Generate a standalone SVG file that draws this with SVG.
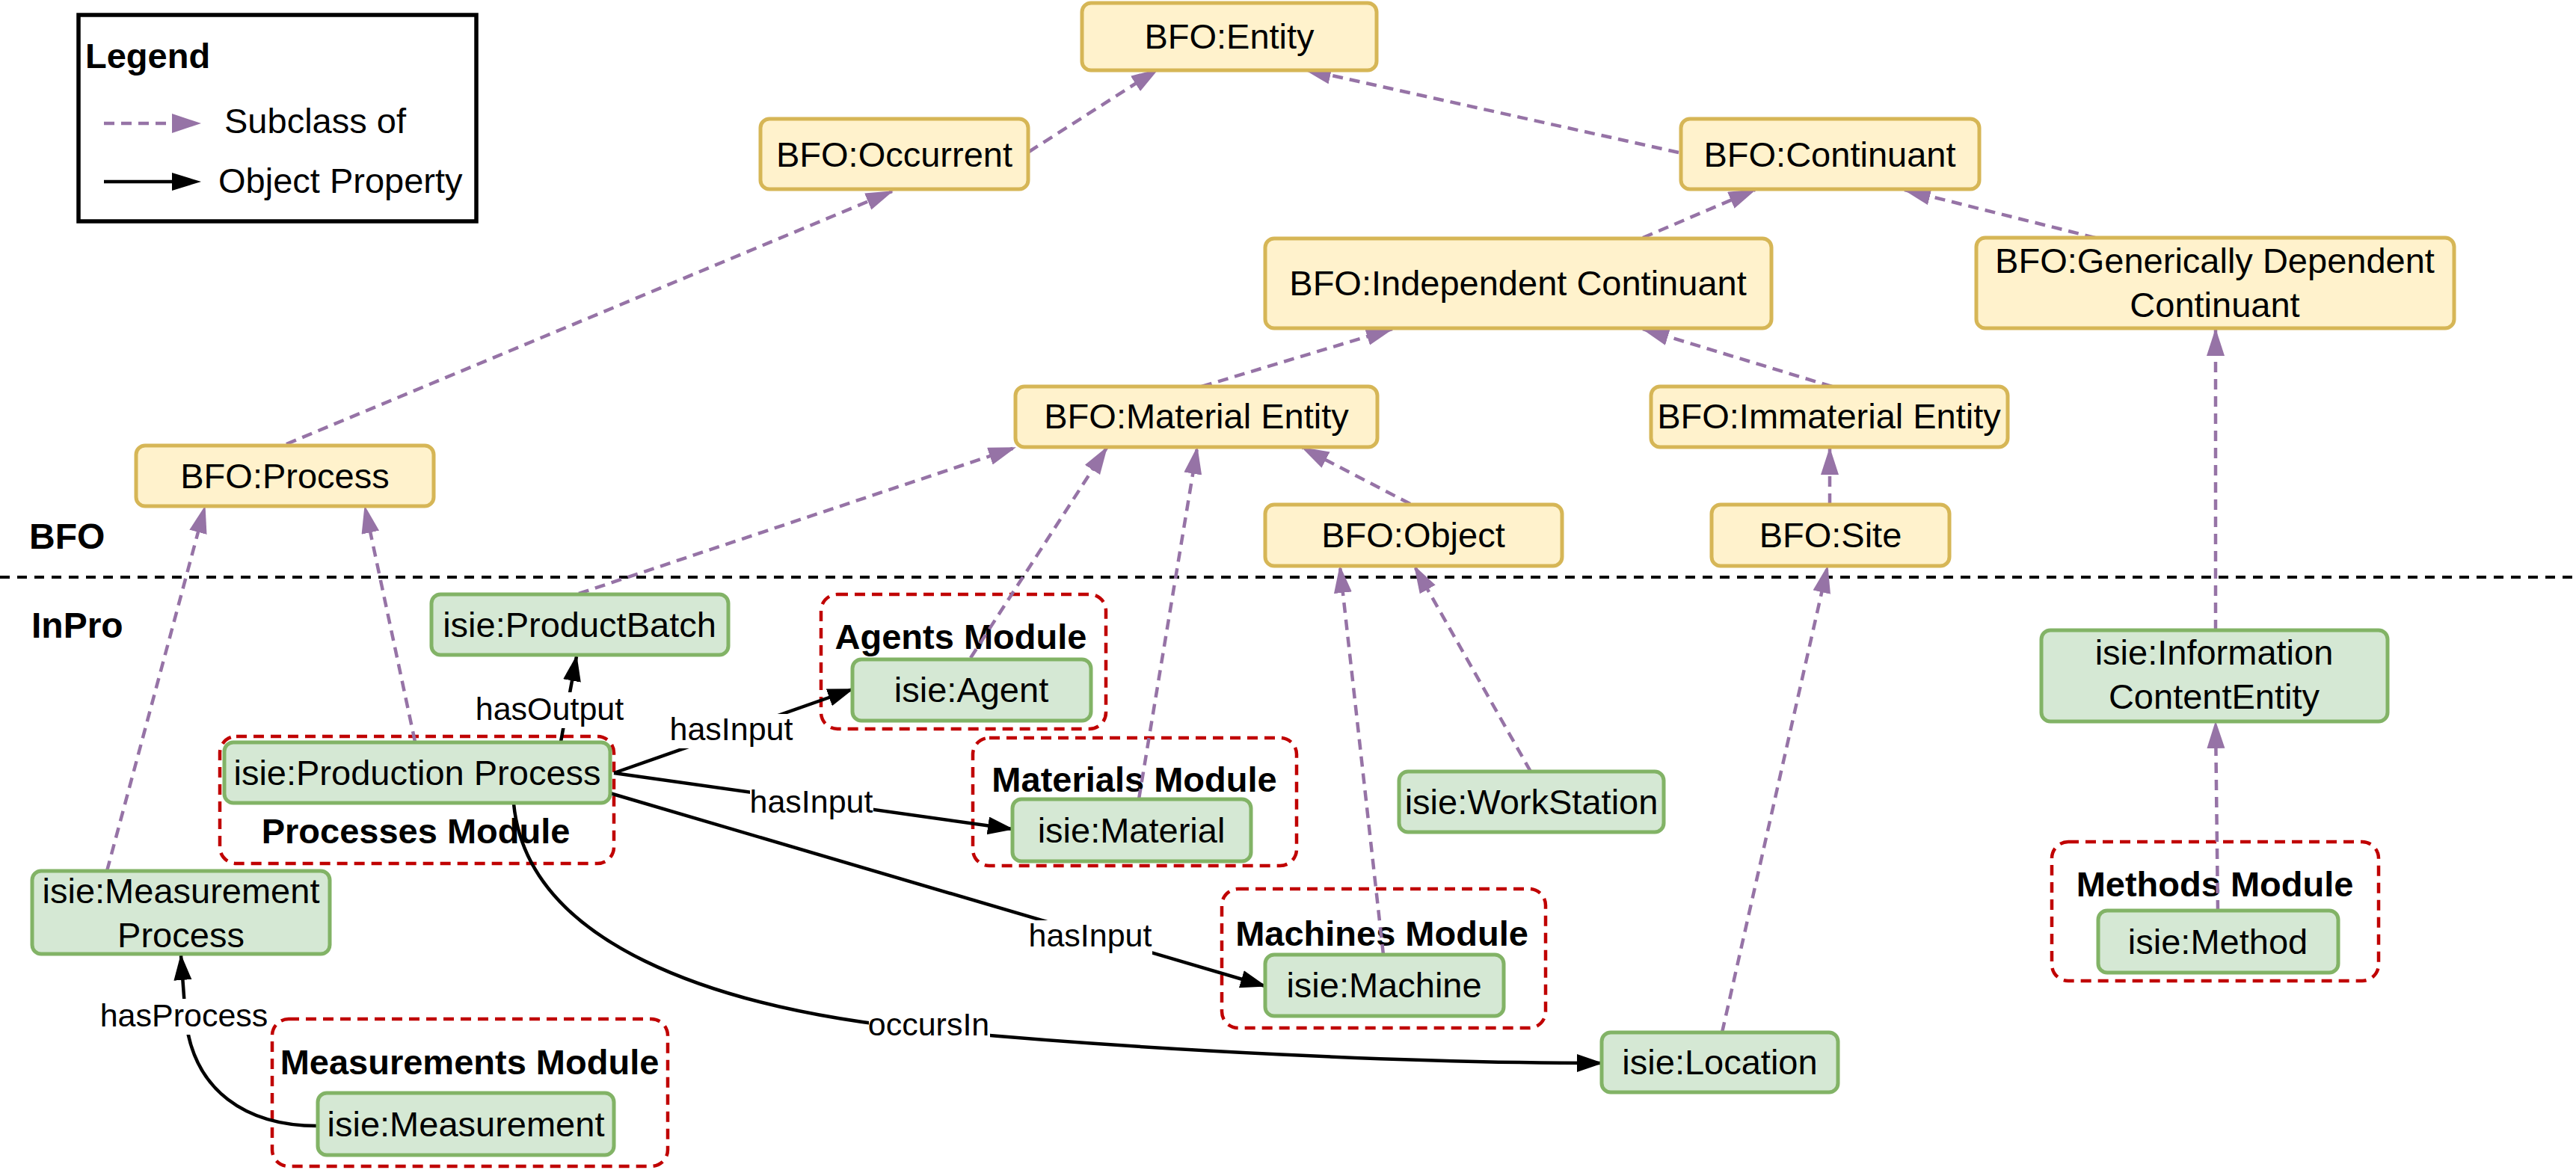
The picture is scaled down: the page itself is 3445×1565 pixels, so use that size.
<svg xmlns="http://www.w3.org/2000/svg" width="3445" height="1565" viewBox="0 0 3445 1565">
<defs>
<style>
text { font-family: "Liberation Sans", Arial, Helvetica, sans-serif; fill:#000; }
.n { font-size:47px; text-anchor:middle; }
.t { font-size:47px; font-weight:bold; text-anchor:middle; }
.sec { font-size:48px; font-weight:bold; }
.lbl { font-size:43px; text-anchor:middle; }
.bfo rect { fill:#fff2cc; stroke:#d6b656; stroke-width:5; }
.inp rect { fill:#d5e8d4; stroke:#82b366; stroke-width:5; }
.mod rect { fill:none; stroke:#c00000; stroke-width:4.5; stroke-dasharray:14 9; }
.sub { fill:none; stroke:#9673a6; stroke-width:4.5; stroke-dasharray:14 9; marker-end:url(#pa); }
.obj { fill:none; stroke:#000; stroke-width:4.5; marker-end:url(#ba); }
.bg { fill:#fff; }
</style>
<marker id="pa" markerUnits="userSpaceOnUse" viewBox="0 0 40 26" markerWidth="40" markerHeight="26" refX="35" refY="12" orient="auto"><path d="M0,0 L37,12 L0,24 z" fill="#9673a6"/></marker>
<marker id="ba" markerUnits="userSpaceOnUse" viewBox="0 0 40 26" markerWidth="40" markerHeight="26" refX="33" refY="12" orient="auto"><path d="M0,0 L35,12 L0,24 z" fill="#000"/></marker>
</defs>
<rect width="3445" height="1565" fill="#fff"/>

<g id="legend">
<rect x="105" y="20" width="532" height="276" fill="#fff" stroke="#000" stroke-width="5.5"/>
<text x="114" y="91" style="font-size:47px;font-weight:bold">Legend</text>
<line x1="139" y1="165" x2="232" y2="165" stroke="#9673a6" stroke-width="4.5" stroke-dasharray="14 9"/>
<path d="M230,152 L269,165 L230,178 z" fill="#9673a6"/>
<text x="300" y="178" style="font-size:47px">Subclass of</text>
<line x1="139" y1="243" x2="232" y2="243" stroke="#000" stroke-width="4.5"/>
<path d="M230,231 L269,243 L230,255 z" fill="#000"/>
<text x="292" y="258" style="font-size:47px">Object Property</text>
</g>

<g id="layers">
<line x1="0" y1="772" x2="3445" y2="772" stroke="#000" stroke-width="4" stroke-dasharray="13 10"/>
<text class="sec" x="39" y="734">BFO</text>
<text class="sec" x="42" y="853">InPro</text>
</g>

<g id="modules" class="mod">
<g id="processes-module"><rect x="294" y="985" width="527" height="170" rx="22"/><text class="t" x="556" y="1128">Processes Module</text></g>
<g id="agents-module"><rect x="1098" y="795" width="381" height="180" rx="22"/><text class="t" x="1285" y="868">Agents Module</text></g>
<g id="materials-module"><rect x="1301" y="987" width="433" height="171" rx="22"/><text class="t" x="1517" y="1059">Materials Module</text></g>
<g id="machines-module"><rect x="1634" y="1189" width="433" height="186" rx="22"/><text class="t" x="1848" y="1265">Machines Module</text></g>
<g id="measurements-module"><rect x="364" y="1363" width="529" height="197" rx="22"/><text class="t" x="628" y="1437">Measurements Module</text></g>
<g id="methods-module"><rect x="2744" y="1126" width="437" height="186" rx="22"/><text class="t" x="2962" y="1199">Methods Module</text></g>
</g>

<g id="connectors">
<path class="sub" d="M1376,203 L1548,93"/>
<path class="sub" d="M2245,204 L1745,93"/>
<path class="sub" d="M383,594 L1193,256"/>
<path class="sub" d="M2197,318 L2347,254"/>
<path class="sub" d="M2802,318 L2547,254"/>
<path class="sub" d="M1607,517 L1862,440"/>
<path class="sub" d="M2450,517 L2197,440"/>
<path class="sub" d="M1886,674 L1742,599"/>
<path class="sub" d="M2447,674 L2447,600"/>
<path class="sub" d="M774,794 L1357,599"/>
<path class="sub" d="M1298,880 L1480,599"/>
<path class="sub" d="M1523,1069 L1601,599"/>
<path class="sub" d="M143,1165 L274,678"/>
<path class="sub" d="M555,992 L488,678"/>
<path class="sub" d="M1850,1277 L1792,758"/>
<path class="sub" d="M2047,1032 L1892,758"/>
<path class="sub" d="M2303,1381 L2444,758"/>
<path class="sub" d="M2963,843 L2963,441"/>
<path class="sub" d="M2966,1218 L2963,966"/>

<path class="obj" d="M750,992 L771,878"/>
<path class="obj" d="M821,1034 L1140,922"/>
<path class="obj" d="M821,1034 L1354,1109"/>
<path class="obj" d="M816,1061 L1692,1319"/>
<path class="obj" d="M687,1075 C705,1260 950,1350 1245,1378 S1900,1422 2142,1422"/>
<path class="obj" d="M425,1506 C330,1506 258,1460 248,1360 L242,1278"/>

<rect class="bg" x="633" y="926" width="204" height="48"/>
<text class="lbl" x="735" y="963">hasOutput</text>
<rect class="bg" x="896" y="955" width="164" height="46"/>
<text class="lbl" x="978" y="990">hasInput</text>
<rect class="bg" x="1003" y="1052" width="165" height="46"/>
<text class="lbl" x="1085" y="1087">hasInput</text>
<rect class="bg" x="1376" y="1231" width="165" height="46"/>
<text class="lbl" x="1458" y="1266">hasInput</text>
<rect class="bg" x="1162" y="1350" width="162" height="46"/>
<text class="lbl" x="1242" y="1385">occursIn</text>
<rect class="bg" x="133" y="1336" width="228" height="48"/>
<text class="lbl" x="246" y="1373">hasProcess</text>
</g>

<g id="bfo-nodes" class="bfo">
<g id="entity"><rect x="1447" y="4" width="394" height="90" rx="12"/><text class="n" x="1644" y="65">BFO:Entity</text></g>
<g id="occurrent"><rect x="1017" y="159" width="358" height="94" rx="12"/><text class="n" x="1196" y="223">BFO:Occurrent</text></g>
<g id="continuant"><rect x="2248" y="159" width="399" height="94" rx="12"/><text class="n" x="2447" y="223">BFO:Continuant</text></g>
<g id="independent-continuant"><rect x="1692" y="319" width="677" height="120" rx="12"/><text class="n" x="2030" y="395">BFO:Independent Continuant</text></g>
<g id="gdc"><rect x="2643" y="318" width="639" height="121" rx="12"/><text class="n" x="2962" y="365">BFO:Generically Dependent</text><text class="n" x="2962" y="424">Continuant</text></g>
<g id="process"><rect x="182" y="596" width="398" height="81" rx="12"/><text class="n" x="381" y="653">BFO:Process</text></g>
<g id="material-entity"><rect x="1358" y="517" width="484" height="81" rx="12"/><text class="n" x="1600" y="573">BFO:Material Entity</text></g>
<g id="immaterial-entity"><rect x="2208" y="517" width="477" height="81" rx="12"/><text class="n" x="2446" y="573">BFO:Immaterial Entity</text></g>
<g id="object"><rect x="1692" y="675" width="397" height="82" rx="12"/><text class="n" x="1890" y="732">BFO:Object</text></g>
<g id="site"><rect x="2289" y="675" width="318" height="82" rx="12"/><text class="n" x="2448" y="732">BFO:Site</text></g>
</g>

<g id="inpro-nodes" class="inp">
<g id="product-batch"><rect x="577" y="795" width="397" height="81" rx="12"/><text class="n" x="775" y="852">isie:ProductBatch</text></g>
<g id="production-process"><rect x="300" y="993" width="516" height="81" rx="12"/><text class="n" x="558" y="1050">isie:Production Process</text></g>
<g id="agent"><rect x="1140" y="882" width="319" height="82" rx="12"/><text class="n" x="1299" y="939">isie:Agent</text></g>
<g id="material"><rect x="1354" y="1069" width="319" height="83" rx="12"/><text class="n" x="1513" y="1127">isie:Material</text></g>
<g id="machine"><rect x="1692" y="1277" width="319" height="82" rx="12"/><text class="n" x="1851" y="1334">isie:Machine</text></g>
<g id="workstation"><rect x="1871" y="1032" width="354" height="81" rx="12"/><text class="n" x="2048" y="1089">isie:WorkStation</text></g>
<g id="location"><rect x="2142" y="1381" width="316" height="80" rx="12"/><text class="n" x="2300" y="1437">isie:Location</text></g>
<g id="measurement-process"><rect x="43" y="1165" width="398" height="111" rx="12"/><text class="n" x="242" y="1208">isie:Measurement</text><text class="n" x="242" y="1267">Process</text></g>
<g id="measurement"><rect x="425" y="1462" width="396" height="83" rx="12"/><text class="n" x="623" y="1520">isie:Measurement</text></g>
<g id="information-content-entity"><rect x="2730" y="843" width="463" height="122" rx="12"/><text class="n" x="2961" y="889">isie:Information</text><text class="n" x="2961" y="948">ContentEntity</text></g>
<g id="method"><rect x="2806" y="1218" width="321" height="83" rx="12"/><text class="n" x="2966" y="1276">isie:Method</text></g>
</g>
</svg>
